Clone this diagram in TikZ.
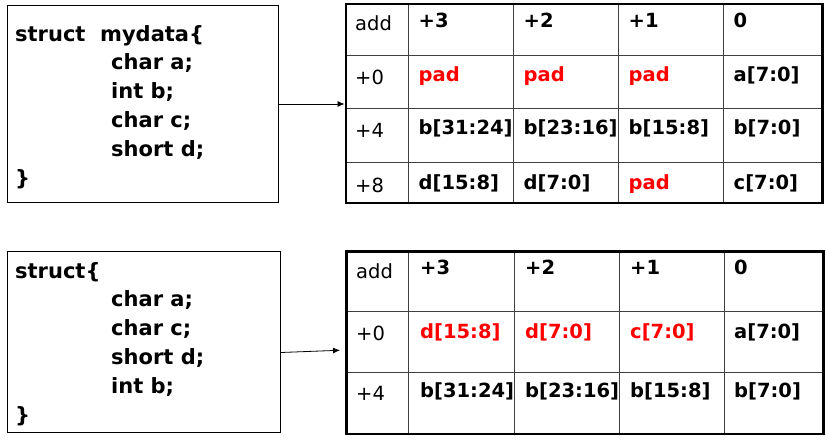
\documentclass[tikz,border=0pt]{standalone}
\usepackage{fontspec}
\setmainfont{DejaVu Sans}
\usetikzlibrary{arrows.meta}
\definecolor{gridgray}{gray}{0.25}
\newcommand{\codeind}{\hspace*{96pt}}

\begin{document}
\begin{tikzpicture}[
    x=1pt, y=-1pt,
    codebox/.style={draw=black, line width=1pt, anchor=north west, inner sep=0pt},
    codetext/.style={anchor=north west, align=left, inner sep=0pt, font=\fontsize{21}{28.8}\selectfont\bfseries},
    tabframe/.style={draw=black, line width=2.5pt, anchor=north west, inner sep=0pt},
    gridline/.style={draw=gridgray, line width=1pt},
    addr/.style={anchor=base west, inner sep=0pt, font=\fontsize{19.5}{22}\selectfont},
    bitcell/.style={anchor=base west, inner sep=0pt, font=\fontsize{19.5}{22}\selectfont\bfseries},
    padcell/.style={bitcell, text=red},
    arrow/.style={-{Latex[length=7pt,width=6pt]}, line width=0.8pt}
]
\useasboundingbox (0,0) rectangle (826,443);

% first struct
\node[codebox, minimum width=271pt, minimum height=197pt] (codeA) at (7,5) {};
\node[codetext] (codeAtxt) at (15,25) {struct\ \ mydata\{\\
\codeind char a;\\
\codeind int b;\\
\codeind char c;\\
\codeind short d;\\
\}};

\draw[gridline] (408,3) -- (408,202);
\draw[gridline] (513,3) -- (513,202);
\draw[gridline] (618,3) -- (618,202);
\draw[gridline] (723,3) -- (723,202);
\draw[gridline] (344.5,56) -- (821,56);
\draw[gridline] (344.5,109) -- (821,109);
\draw[gridline] (344.5,163) -- (821,163);
\node[tabframe, minimum width=476.5pt, minimum height=199pt] (tabA) at (344.5,3) {};

\node[addr] (a00) at (355,31) {add};
\node[bitcell] (a01) at (418.5,28) {+3};
\node[bitcell] (a02) at (523.5,28) {+2};
\node[bitcell] (a03) at (628.5,28) {+1};
\node[bitcell] (a04) at (733.5,28) {0};
\node[addr] (a10) at (355,85) {+0};
\node[padcell] (a11) at (418.5,82) {pad};
\node[padcell] (a12) at (523.5,82) {pad};
\node[padcell] (a13) at (628.5,82) {pad};
\node[bitcell] (a14) at (733.5,82) {a[7:0]};
\node[addr] (a20) at (355,138) {+4};
\node[bitcell] (a21) at (418.5,135) {b[31:24]};
\node[bitcell] (a22) at (523.5,135) {b[23:16]};
\node[bitcell] (a23) at (628.5,135) {b[15:8]};
\node[bitcell] (a24) at (733.5,135) {b[7:0]};
\node[addr] (a30) at (355,193) {+8};
\node[bitcell] (a31) at (418.5,190) {d[15:8]};
\node[bitcell] (a32) at (523.5,190) {d[7:0]};
\node[padcell] (a33) at (628.5,190) {pad};
\node[bitcell] (a34) at (733.5,190) {c[7:0]};

% second struct
\node[codebox, minimum width=273pt, minimum height=181pt] (codeB) at (7,251) {};
\node[codetext] (codeBtxt) at (15,262) {struct\{\\
\codeind char a;\\
\codeind char c;\\
\codeind short d;\\
\codeind int b;\\
\}};

\draw[gridline] (408.7,250.5) -- (408.7,432.5);
\draw[gridline] (514.3,250.5) -- (514.3,432.5);
\draw[gridline] (619.3,250.5) -- (619.3,432.5);
\draw[gridline] (724.3,250.5) -- (724.3,432.5);
\draw[gridline] (345,311) -- (822.3,311);
\draw[gridline] (345,372) -- (822.3,372);
\node[tabframe, minimum width=477.3pt, minimum height=182pt] (tabB) at (345,250.5) {};

\node[addr] (b00) at (356,279) {add};
\node[bitcell] (b01) at (420,275) {+3};
\node[bitcell] (b02) at (525,275) {+2};
\node[bitcell] (b03) at (630,275) {+1};
\node[bitcell] (b04) at (734,275) {0};
\node[addr] (b10) at (356,340) {+0};
\node[padcell] (b11) at (420,338) {d[15:8]};
\node[padcell] (b12) at (525,338) {d[7:0]};
\node[padcell] (b13) at (630,338) {c[7:0]};
\node[bitcell] (b14) at (734,338) {a[7:0]};
\node[addr] (b20) at (356,400) {+4};
\node[bitcell] (b21) at (420,397) {b[31:24]};
\node[bitcell] (b22) at (525,397) {b[23:16]};
\node[bitcell] (b23) at (630,397) {b[15:8]};
\node[bitcell] (b24) at (734,397) {b[7:0]};

\draw[arrow] (codeA.east) -- (codeA.east -| tabA.west);
\draw[arrow] ([yshift=-10.5pt]codeB.east) -- ([xshift=-5pt,yshift=-7.5pt]tabB.west);

\end{tikzpicture}
\end{document}
